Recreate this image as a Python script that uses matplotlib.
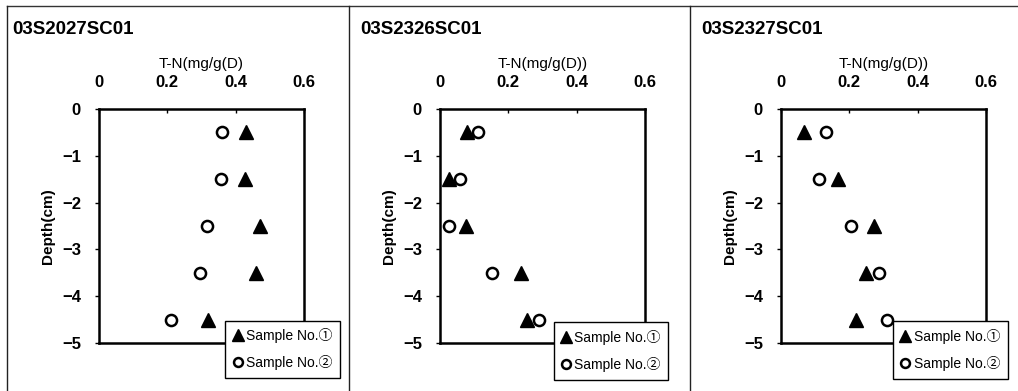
import matplotlib
matplotlib.use("Agg")
import matplotlib.pyplot as plt
from matplotlib.lines import Line2D

# Sample depths (cm, negative downward)
depth = [-0.5, -1.5, -2.5, -3.5, -4.5]

stations = ["03S2027SC01", "03S2326SC01", "03S2327SC01"]
xlabels = ["T-N(mg/g(D)", "T-N(mg/g(D))", "T-N(mg/g(D))"]

# T-N values, mg/g dry
tn_sample1 = [
    [0.43, 0.427, 0.472, 0.459, 0.319],
    [0.078, 0.027, 0.076, 0.237, 0.254],
    [0.068, 0.166, 0.271, 0.249, 0.220],
]
tn_sample2 = [
    [0.36, 0.356, 0.315, 0.295, 0.21],
    [0.111, 0.059, 0.027, 0.152, 0.291],
    [0.132, 0.110, 0.205, 0.288, 0.310],
]

legend_labels = ["Sample No.\u2460", "Sample No.\u2461"]
xticks = [0, 0.2, 0.4, 0.6]
xtick_labels = ["0", "0.2", "0.4", "0.6"]
yticks = [0, -1, -2, -3, -4, -5]
ytick_labels = ["0", "\u22121", "\u22122", "\u22123", "\u22124", "\u22125"]

W, H = 1018, 391
fig = plt.figure(figsize=(W / 100, H / 100), dpi=100)

font_main = ["Liberation Sans", "DejaVu Sans"]
font_leg = ["Liberation Sans", "Noto Sans CJK JP", "DejaVu Sans"]

ax_lefts = [99, 440, 781]
title_x = [12, 360, 701]
legend_anchor = [(0.615, -0.148), (0.554, -0.156), (0.546, -0.152)]

ax_w, ax_top, ax_bot = 205, 109, 343

for i in range(3):
    left = ax_lefts[i]
    ax = fig.add_axes([left / W, 1 - ax_bot / H, ax_w / W, (ax_bot - ax_top) / H])
    ax.plot(tn_sample1[i], depth, linestyle="none", marker="^", markersize=10,
            color="black", label=legend_labels[0], clip_on=False, zorder=3)
    ax.plot(tn_sample2[i], depth, linestyle="none", marker="o", markersize=8,
            markerfacecolor="white", markeredgecolor="black", markeredgewidth=1.8,
            label=legend_labels[1], clip_on=False, zorder=3)
    ax.set_xlim(0, 0.6)
    ax.set_ylim(-5, 0)
    ax.xaxis.tick_top()
    ax.xaxis.set_label_position("top")
    ax.set_xticks(xticks)
    ax.set_xticklabels(xtick_labels, family=font_main, fontweight="bold", fontsize=12)
    ax.set_yticks(yticks)
    ax.set_yticklabels(ytick_labels, family=font_main, fontweight="bold", fontsize=12)
    ax.tick_params(axis="x", direction="in", length=3, width=1, pad=14)
    ax.tick_params(axis="y", direction="out", length=3, width=1, pad=10)
    for s in ax.spines.values():
        s.set_linewidth(1.8)
    ax.set_xlabel(xlabels[i], family=font_main, fontsize=11, labelpad=5)
    ax.set_ylabel("Depth(cm)", family=font_main, fontsize=11, fontweight="bold", labelpad=5)
    leg = ax.legend(loc="lower left", bbox_to_anchor=legend_anchor[i],
                    prop={"family": font_leg, "size": 10}, frameon=True,
                    fancybox=False, framealpha=1, edgecolor="black",
                    handlelength=0.7, handletextpad=0.25, borderpad=0.55,
                    labelspacing=0.85, markerscale=0.8, borderaxespad=0)
    leg.get_frame().set_linewidth(1.0)
    leg.set_zorder(5)
    fig.text(title_x[i] / W, 1 - 30 / H, stations[i], family=font_main,
             fontweight="bold", fontsize=13.5, va="center", ha="left")

# Panel frame lines
fig.add_artist(Line2D([7 / W, 1], [1 - 6 / H, 1 - 6 / H], color="#333333", lw=1))
for xp in [7, 349, 690]:
    fig.add_artist(Line2D([xp / W, xp / W], [0, 1 - 6 / H], color="#222222", lw=1))

fig.savefig("out.png", dpi=100)
